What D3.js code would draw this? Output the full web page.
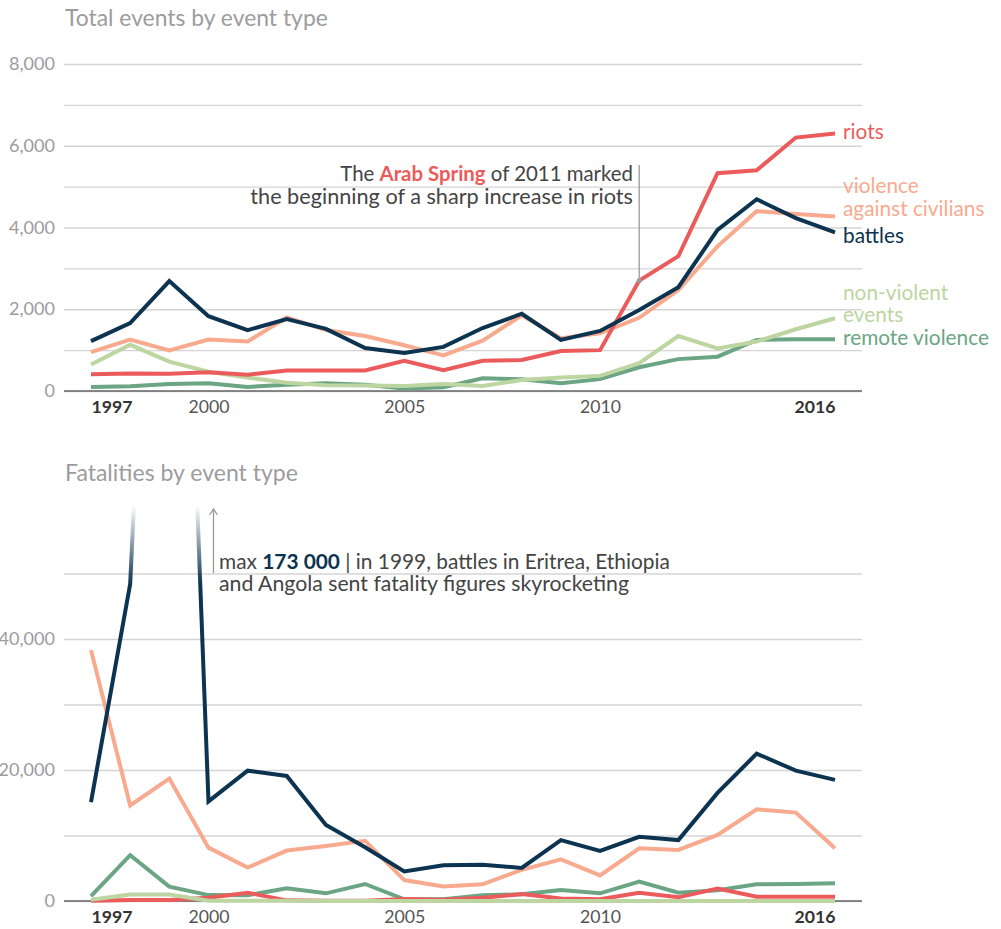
<!DOCTYPE html>
<html><head><meta charset="utf-8">
<script src="https://cdn.jsdelivr.net/npm/d3@7"></script>
<style>
html,body{margin:0;padding:0;background:#fff;}
svg{display:block;}
</style></head><body>
<svg id="chart" width="1001" height="929"></svg>
<script>
// ---------- DATA ----------
const years = [1997,1998,1999,2000,2001,2002,2003,2004,2005,2006,2007,2008,2009,2010,2011,2012,2013,2014,2015,2016];
const xTickYears = [1997,2000,2005,2010,2016];

const eventsRiots      = [410,430,420,460,400,500,500,500,740,510,740,760,980,1000,2700,3300,5330,5400,6200,6300];
const eventsCivilians  = [950,1260,990,1260,1210,1800,1490,1345,1120,870,1230,1850,1290,1410,1790,2470,3540,4400,4330,4270];
const eventsBattles    = [1220,1660,2690,1830,1490,1760,1520,1050,930,1080,1540,1890,1250,1470,1980,2540,3940,4690,4230,3880];
const eventsNonViolent = [650,1130,720,470,330,200,140,135,120,170,120,270,330,370,680,1345,1040,1210,1510,1780];
const eventsRemote     = [100,115,170,190,100,150,190,155,60,90,310,285,190,290,580,780,840,1250,1265,1265];

const fatalRiots      = [50,150,150,500,1270,100,50,50,300,200,500,1050,400,260,1270,560,1900,660,660,660];
const fatalCivilians  = [38300,14600,18700,8150,5100,7700,8400,9200,3200,2200,2550,4750,6350,3900,8050,7800,10100,14000,13500,8050];
const fatalBattles    = [15100,48400,173000,15200,19900,19100,11600,8200,4500,5450,5550,5050,9300,7650,9800,9300,16500,22500,19900,18500];
const fatalNonViolent = [200,1000,1000,50,30,20,10,10,10,10,10,10,10,10,10,10,10,10,10,10];
const fatalRemote     = [760,7000,2200,900,870,1950,1170,2600,260,250,870,1020,1680,1170,2950,1270,1630,2550,2600,2700];

const eventsGrid   = [1000,2000,3000,4000,5000,6000,7000,8000];
const eventsLabels = [0,2000,4000,6000,8000];
const fatalGrid    = [10000,20000,30000,40000,50000];
const fatalLabels  = [0,20000,40000];

const legendLabels = [["riots"],["violence","against civilians"],["battles"],["non-violent","events"],["remote violence"]];
const seriesKeys   = ["riots","civilians","battles","nonviolent","remote"];

// ---------- STYLE ----------
const FONT = 'Lato,"Open Sans",sans-serif';
const col = {riots:"#ec5b5b", civilians:"#f8aa8f", battles:"#0c3350", nonviolent:"#bcd5a1", remote:"#6ba584"};
const svg = d3.select("#chart").attr("font-family", FONT);
const fmt = d3.format(",");

const x = d3.scaleLinear().domain([years[0], years[years.length-1]]).range([91, 835]);
const X0 = 64, X1 = 862;

function fit(sel, target){
  const n = sel.node();
  const fs = parseFloat(sel.attr("font-size"));
  const w = n.getComputedTextLength();
  const nf = fs*target/w;
  sel.attr("font-size", nf);
  return nf;
}

const defs = svg.append("defs");
const grad = defs.append("linearGradient").attr("id","fade")
  .attr("gradientUnits","userSpaceOnUse").attr("x1",0).attr("x2",0).attr("y1",505).attr("y2",585);
grad.append("stop").attr("offset",0).attr("stop-color",col.battles).attr("stop-opacity",0);
grad.append("stop").attr("offset",1).attr("stop-color",col.battles).attr("stop-opacity",1);

function panel(cfg){
  const g = svg.append("g");
  const y = d3.scaleLinear().domain([0, cfg.max]).range([cfg.y0, cfg.yTop]);

  const t = g.append("text").attr("x",65).attr("y",cfg.titleY).attr("fill","#9c9c9e")
    .attr("font-size",22).text(cfg.title);
  fit(t, cfg.titleW);

  const ticks = Array.from(new Set([0].concat(cfg.grid)));
  const yAxis = d3.axisLeft(y).tickValues(ticks).tickSize(-(X1-X0)).tickPadding(9)
    .tickFormat(d => cfg.labels.includes(d) ? fmt(d) : "");
  const ga = g.append("g").attr("transform",`translate(${X0},0)`).call(yAxis);
  ga.select(".domain").remove();
  ga.selectAll(".tick line").attr("stroke","#d4d4d4").attr("stroke-width",1.4);
  ga.selectAll(".tick text").attr("fill","#9c9c9e").attr("font-family",FONT)
    .attr("font-size",cfg.tickFs).attr("dy",null).attr("y",5.5);

  const xAxis = d3.axisBottom(x).tickValues(xTickYears).tickSize(0).tickFormat(d3.format("d"));
  const gx = g.append("g").attr("transform",`translate(0,${cfg.y0})`).call(xAxis);
  gx.select(".domain").remove();
  gx.selectAll(".tick text").attr("font-family",FONT).attr("font-size",cfg.yearFs)
    .attr("dy",null).attr("y",22)
    .attr("text-anchor", d => d===1997 ? "start" : d===2016 ? "end" : "middle")
    .attr("font-weight", d => (d===1997||d===2016) ? 700 : 400)
    .attr("fill", d => (d===1997||d===2016) ? "#333" : "#555");

  g.append("line").attr("x1",X0).attr("x2",X1).attr("y1",y(0)).attr("y2",y(0))
    .attr("stroke","#666").attr("stroke-width",1.4);

  const line = d3.line().x((d,i)=>x(years[i])).y(d=>y(d));
  cfg.order.forEach(k=>{
    g.append("path").datum(cfg.data[k]).attr("d",line).attr("fill","none")
      .attr("stroke", (k==="battles" && cfg.fade) ? "url(#fade)" : col[k])
      .attr("stroke-width",4).attr("stroke-linejoin","miter");
  });
  return y;
}

const probe = svg.append("text").attr("font-size",16).text("8,000");
const tickFs = fit(probe, 46); probe.remove();
const probe2 = svg.append("text").attr("font-size",16).text("2000");
const yearFs = fit(probe2, 41); probe2.remove();

const yTop = panel({
  title:"Total events by event type", titleY:26, titleW:263,
  max:8000, y0:391, yTop:64, grid:eventsGrid, labels:eventsLabels, tickFs, yearFs,
  data:{riots:eventsRiots, civilians:eventsCivilians, battles:eventsBattles, nonviolent:eventsNonViolent, remote:eventsRemote},
  order:["remote","nonviolent","civilians","riots","battles"]
});

const yBot = panel({
  title:"Fatalities by event type", titleY:481, titleW:233,
  max:50000, y0:901, yTop:573.5, grid:fatalGrid, labels:fatalLabels, tickFs, yearFs, fade:true,
  data:{riots:fatalRiots, civilians:fatalCivilians, battles:fatalBattles, nonviolent:fatalNonViolent, remote:fatalRemote},
  order:["remote","riots","nonviolent","civilians","battles"]
});

// ---------- legend ----------
const lg = svg.append("g");
const probe3 = lg.append("text").attr("font-size",19).text("remote violence");
const legFs = fit(probe3, 146); probe3.remove();
const legPos = [[139],[193,216],[243],[300,322],[345]];
legendLabels.forEach((lines,i)=>{
  lines.forEach((s,j)=>{
    lg.append("text").attr("x",843).attr("y",legPos[i][j]).attr("font-size",legFs)
      .attr("fill",col[seriesKeys[i]]).text(s);
  });
});

// ---------- annotation top ----------
const ax = x(2011), ay = yTop(eventsRiots[14]);
svg.append("line").attr("x1",ax).attr("x2",ax).attr("y1",165).attr("y2",ay)
  .attr("stroke","#9a9a9a").attr("stroke-width",1.3);
svg.append("circle").attr("cx",ax).attr("cy",ay).attr("r",2.5).attr("fill","#9a9a9a");
const a1 = svg.append("text").attr("x",633).attr("y",181).attr("text-anchor","end").attr("font-size",18).attr("fill","#444");
a1.append("tspan").text("The ");
a1.append("tspan").attr("font-weight",700).attr("fill",col.riots).text("Arab Spring");
a1.append("tspan").text(" of 2011 marked");
fit(a1, 293);
const a2 = svg.append("text").attr("x",633).attr("y",204).attr("text-anchor","end").attr("font-size",18).attr("fill","#444")
  .text("the beginning of a sharp increase in riots");
fit(a2, 383);

// ---------- annotation bottom ----------
const bx = x(2000)+5;
svg.append("line").attr("x1",bx).attr("x2",bx).attr("y1",573).attr("y2",509)
  .attr("stroke","#9a9a9a").attr("stroke-width",1.3);
svg.append("path").attr("d",`M${bx-4},${515}L${bx},${509}L${bx+4},${515}`)
  .attr("fill","none").attr("stroke","#9a9a9a").attr("stroke-width",1.3);
const b1 = svg.append("text").attr("x",219).attr("y",569).attr("font-size",18).attr("fill","#444");
b1.append("tspan").text("max ");
b1.append("tspan").attr("font-weight",700).attr("fill",col.battles).text("173 000");
b1.append("tspan").text(" | in 1999, battles in Eritrea, Ethiopia");
fit(b1, 451);
const b2 = svg.append("text").attr("x",219).attr("y",591).attr("font-size",18).attr("fill","#444")
  .text("and Angola sent fatality figures skyrocketing");
fit(b2, 410);
</script>
</body></html>
